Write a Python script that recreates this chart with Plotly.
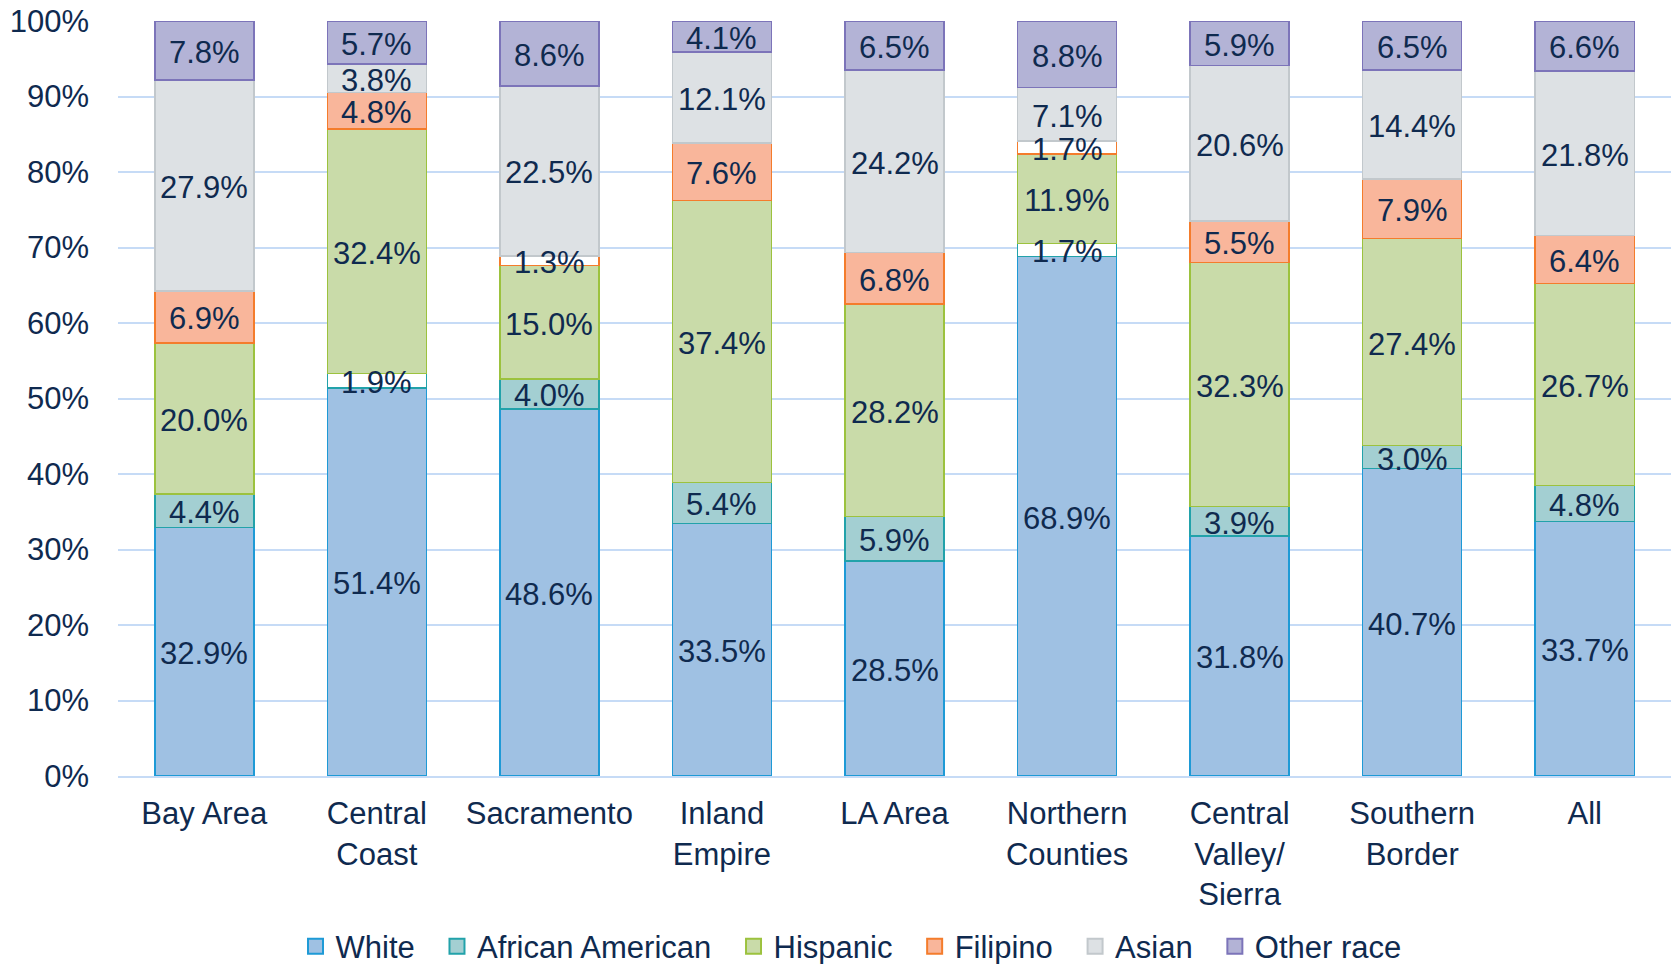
import plotly.graph_objects as go
import numpy as np

regions = ["Bay Area", "Central<br>Coast", "Sacramento", "Inland<br>Empire", "LA Area",
           "Northern<br>Counties", "Central<br>Valley/<br>Sierra", "Southern<br>Border", "All"]

white = [32.9, 51.4, 48.6, 33.5, 28.5, 68.9, 31.8, 40.7, 33.7]
african_american = [4.4, 1.9, 4.0, 5.4, 5.9, 1.7, 3.9, 3.0, 4.8]
hispanic = [20.0, 32.4, 15.0, 37.4, 28.2, 11.9, 32.3, 27.4, 26.7]
filipino = [6.9, 4.8, 1.3, 7.6, 6.8, 1.7, 5.5, 7.9, 6.4]
asian = [27.9, 3.8, 22.5, 12.1, 24.2, 7.1, 20.6, 14.4, 21.8]
other_race = [7.8, 5.7, 8.6, 4.1, 6.5, 8.8, 5.9, 6.5, 6.6]

series = [
    ("White", white, "#9fc1e3", "#1e9ad6"),
    ("African American", african_american, "#a3cfd2", "#22a2aa"),
    ("Hispanic", hispanic, "#c9dba9", "#9cc23e"),
    ("Filipino", filipino, "#f9b69b", "#f47c2c"),
    ("Asian", asian, "#dde1e4", "#c2c8cc"),
    ("Other race", other_race, "#b3b3d6", "#7c74b9"),
]

TXT = "#0f2a4f"
FONT = "Liberation Sans, Arial, sans-serif"
FS = 31

fig = go.Figure()
totals = np.sum([np.array(s[1]) for s in series], axis=0)
base = np.zeros(len(regions))
annotations = []
for name, vals, fill, line in series:
    v = np.array(vals)
    fills = ["#ffffff" if x < 2 else fill for x in vals]
    fig.add_trace(go.Bar(
        name=name, x=regions, y=vals,
        marker=dict(color=fills, line=dict(color=line, width=1.5)),
        hoverinfo="skip", showlegend=False,
    ))
    norm = v / totals * 100
    mid = base + norm / 2
    base = base + norm
    for r, m, val in zip(regions, mid, vals):
        annotations.append(dict(
            x=r, y=m, xref="x", yref="y", text=f"{val:.1f}%", showarrow=False,
            yshift=-2, font=dict(size=FS, color=TXT, family=FONT),
        ))

# legend entries
for i, (name, vals, fill, line) in enumerate(series):
    pad = "\u00a0\u00a0" if i < len(series) - 1 else ""
    fig.add_trace(go.Scatter(
        x=[None], y=[None], mode="markers", name=name + pad,
        marker=dict(symbol="square", size=15, color=fill, line=dict(color=line, width=2)),
        showlegend=True, hoverinfo="skip",
    ))

fig.update_layout(
    barmode="stack", barnorm="percent", bargap=0.426,
    width=1671, height=964,
    margin=dict(l=118, r=0, t=21, b=188, autoexpand=False),
    paper_bgcolor="white", plot_bgcolor="white",
    font=dict(family=FONT, size=FS, color=TXT),
    legend=dict(orientation="h", x=0.472, xanchor="center", y=-0.226, yanchor="middle",
                font=dict(size=FS, color=TXT), itemwidth=30, traceorder="normal"),
    showlegend=True,
    annotations=annotations,
)
fig.update_yaxes(range=[0, 100], tickvals=list(range(0, 101, 10)),
                 ticktext=[f"{t}%" for t in range(0, 101, 10)],
                 showgrid=True, gridcolor="#c6dbf6", gridwidth=1.5,
                 zeroline=False, showline=False, ticks="", ticklabelstandoff=28,
                 ticklabeloverflow="allow",
                 tickfont=dict(size=FS, color=TXT), automargin=False)
fig.update_xaxes(showline=True, linecolor="#c6dbf6", linewidth=2, ticks="",
                 tickfont=dict(size=FS, color=TXT), ticklabelstandoff=9, automargin=False)

fig.write_html("out.html", config={"displayModeBar": False},
               post_script="document.body.style.margin='0px';")
